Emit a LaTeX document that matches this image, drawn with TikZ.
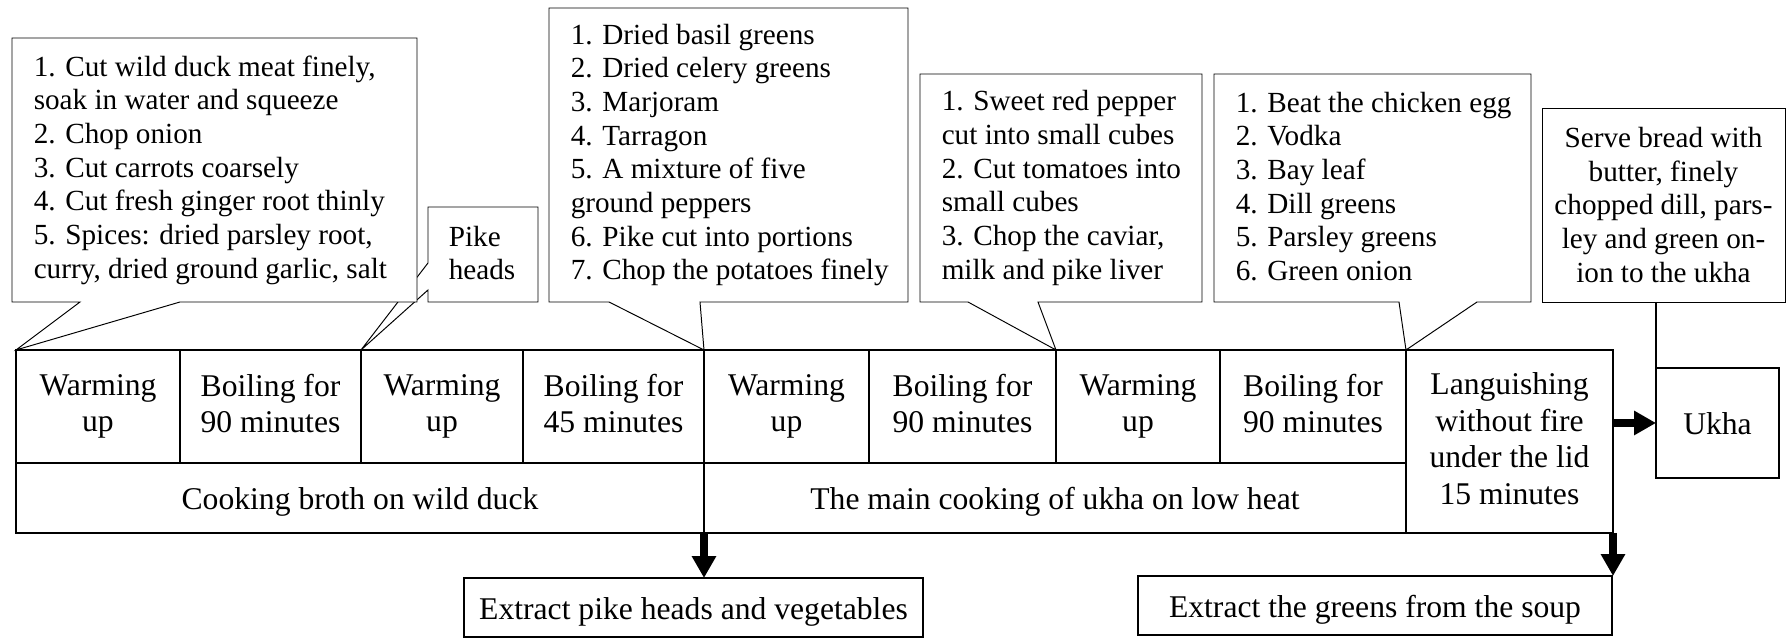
\documentclass[tikz,border=0pt]{standalone}
\usepackage{fontspec}
\setmainfont{Liberation Serif}
\usetikzlibrary{fit,backgrounds,arrows.meta}

\newcommand\cellfont{\fontsize{13}{15}\selectfont}
\newcommand\notefont{\fontsize{12}{13.85}\selectfont}
\newcommand\cellstrut{\rule[-2.6pt]{0pt}{15pt}}
\newcommand\notestrut{\rule[-1.45pt]{0pt}{13.85pt}}

\begin{document}
\begin{tikzpicture}[x=0.411pt,y=-0.411pt,line width=0.7pt,
  cell/.style={draw,inner sep=0pt,outer sep=0pt,align=center,font=\cellfont,
    execute at begin node=\cellstrut,execute at end node=\cellstrut},
  size/.style 2 args={minimum width=#1*0.411pt,minimum height=#2*0.411pt},
  frame/.style={inner sep=0pt,outer sep=0pt},
  notetext/.style={anchor=west,align=left,inner sep=0pt,font=\notefont,
    execute at begin node=\notestrut,execute at end node=\notestrut},
  bubble/.style={draw,fill=white,line join=miter},
  fat/.style={line width=3.4pt,-{Triangle[width=9.5pt,length=9pt]}}]
\useasboundingbox (0,0) rectangle (1787,639);

% stages
\node[cell,size={164}{113}] (warm1) at (98,406.5) {Warming\\up};
\node[cell,size={181}{113}] (boil1) at (270.5,406.5) {Boiling for\\90 minutes};
\node[cell,size={162}{113}] (warm2) at (442,406.5) {Warming\\up};
\node[cell,size={181}{113}] (boil2) at (613.5,406.5) {Boiling for\\45 minutes};
\node[cell,size={165}{113}] (warm3) at (786.5,406.5) {Warming\\up};
\node[cell,size={187}{113}] (boil3) at (962.5,406.5) {Boiling for\\90 minutes};
\node[cell,size={164}{113}] (warm4) at (1138,406.5) {Warming\\up};
\node[cell,size={186}{113}] (boil4) at (1313,406.5) {Boiling for\\90 minutes};
\node[cell,size={688}{70}] (broth) at (360,498) {Cooking broth on wild duck};
\node[cell,size={702}{70}] (mainstage) at (1055,498) {The main cooking of ukha on low heat};
\node[cell,size={207}{183}] (rest) at (1509.5,441.5) {Languishing\\without fire\\under the lid\\15 minutes};
\node[cell,size={123}{110}] (ukha) at (1717.5,423) {Ukha};
\node[cell,size={459}{59}] (pullpike) at (693.5,607.5) {Extract pike heads and vegetables};
\node[cell,size={474}{59}] (pullgreens) at (1375,605.5) {Extract the greens from the soup};

% what goes in
\node[frame,fit={(12,38) (417,302)}] (duckbox) {};
\node[frame,fit={(428,207) (538,302)}] (pikebox) {};
\node[frame,fit={(549,8) (908,302)}] (herbbox) {};
\node[frame,fit={(920,74) (1202,302)}] (vegbox) {};
\node[frame,fit={(1214,74) (1531,302)}] (greenbox) {};
\node[frame,fit={(1542,108) (1785,302)}] (servebox) {};

\node[notetext] (duck) at ([xshift=8.6pt]duckbox.west) {1. Cut wild duck meat finely,\\soak in water and squeeze\\2. Chop onion\\3. Cut carrots coarsely\\4. Cut fresh ginger root thinly\\5. Spices: dried parsley root,\\curry, dried ground garlic, salt};
\node[notetext] (pike) at ([xshift=8.2pt]pikebox.west) {Pike\\heads};
\node[notetext] (herbs) at ([xshift=8.6pt]herbbox.west) {1. Dried basil greens\\2. Dried celery greens\\3. Marjoram\\4. Tarragon\\5. A mixture of five\\ground peppers\\6. Pike cut into portions\\7. Chop the potatoes finely};
\node[notetext] (veg) at ([xshift=8.6pt]vegbox.west) {1. Sweet red pepper\\cut into small cubes\\2. Cut tomatoes into\\small cubes\\3. Chop the caviar,\\milk and pike liver};
\node[notetext] (greens) at ([xshift=8.6pt]greenbox.west) {1. Beat the chicken egg\\2. Vodka\\3. Bay leaf\\4. Dill greens\\5. Parsley greens\\6. Green onion};
\node[align=center,inner sep=0pt,font=\notefont] (serve) at (servebox) {Serve bread with\\butter, finely\\chopped dill, pars-\\ley and green on-\\ion to the ukha};

\begin{scope}[on background layer]
\draw[bubble] (pikebox.north west) -- (pikebox.north east) -- (pikebox.south east) -- (pikebox.south west) -- (428,290) -- (warm2.north west) -- (428,263) -- cycle;
\draw[bubble] (duckbox.north west) -- (duckbox.north east) -- (duckbox.south east) -- (180,302) -- (warm1.north west) -- (80,302) -- (duckbox.south west) -- cycle;
\draw[bubble] (herbbox.north west) -- (herbbox.north east) -- (herbbox.south east) -- (700,302) -- (warm3.north west) -- (609,302) -- (herbbox.south west) -- cycle;
\draw[bubble] (vegbox.north west) -- (vegbox.north east) -- (vegbox.south east) -- (1038,302) -- (warm4.north west) -- (968,302) -- (vegbox.south west) -- cycle;
\draw[bubble] (greenbox.north west) -- (greenbox.north east) -- (greenbox.south east) -- (1477,302) -- (rest.north west) -- (1399,302) -- (greenbox.south west) -- cycle;
\draw[bubble] (servebox.north west) rectangle (servebox.south east);
\end{scope}
\draw (servebox.south -| ukha.north west) -- (ukha.north west);

\draw[fat] (broth.south east) -- (pullpike.north -| broth.south east);
\draw[fat] (rest.south east) -- (rest.south east |- pullgreens.north);
\draw[fat] (rest.east |- ukha.west) -- (ukha.west);
\end{tikzpicture}
\end{document}
